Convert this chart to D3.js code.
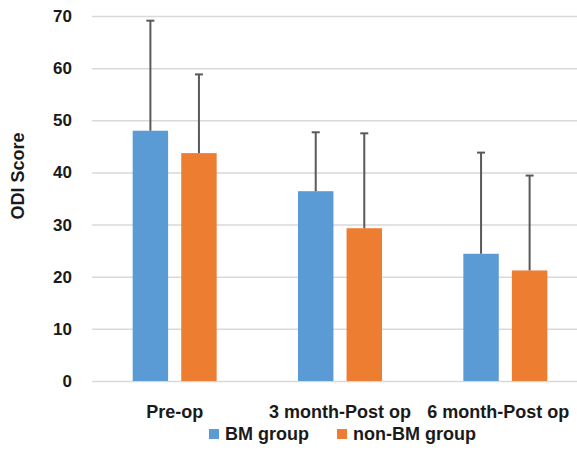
<!DOCTYPE html>
<html>
<head>
<meta charset="utf-8">
<script src="https://cdn.jsdelivr.net/npm/d3@7"></script>
<style>
  body { margin: 0; background: #fff; }
  text { font-family: "Liberation Sans", Arial, sans-serif; font-weight: bold; fill: #1a1a1a; }
</style>
</head>
<body>
<div id="chart"></div>
<script>
// datos
var categorias = ["Pre-op", "3 month-Post op", "6 month-Post op"];
var series = ["BM group", "non-BM group"];
var mediaBM = [48.0, 36.4, 24.4];
var sdBM = [21.1, 11.3, 19.4];
var mediaNoBM = [43.7, 29.3, 21.2];
var sdNoBM = [15.1, 18.2, 18.2];
var yTicks = [0, 10, 20, 30, 40, 50, 60, 70];
var colores = ["#5b9bd5", "#ed7d31"];

var W = 577, H = 456;
var margin = {top: 16, right: -11, bottom: 75, left: 92};
var width = W - margin.left - margin.right,
    height = H - margin.top - margin.bottom;

var svg = d3.select("#chart").append("svg")
    .attr("width", W)
    .attr("height", H);

var vis = svg.append("g")
    .attr("transform", "translate(" + margin.left + "," + margin.top + ")");

// escalas
var x = d3.scaleBand().domain(categorias).range([0, width]).paddingInner(0).paddingOuter(0);
var x1 = d3.scaleBand().domain(series).range([x.bandwidth()/2 - 42, x.bandwidth()/2 + 42]).paddingInner(0.27);
var y = d3.scaleLinear().domain([0, 70]).range([height, 0]);

// tabla de datos
var datos = [];
categorias.forEach(function(c, i) {
  datos.push({cat: c, serie: series[0], media: mediaBM[i], sd: sdBM[i]});
  datos.push({cat: c, serie: series[1], media: mediaNoBM[i], sd: sdNoBM[i]});
});

// grid
var yAxisGrid = d3.axisLeft(y)
    .tickValues(yTicks)
    .tickSizeInner(-width)
    .tickSizeOuter(0)
    .tickFormat("");
var grid = vis.append("g").attr("class", "grid").call(yAxisGrid);
grid.select(".domain").remove();
grid.selectAll("line").attr("stroke", "#d9d9d9").attr("stroke-width", 1.5);

// eje y letras
var yAxis = d3.axisLeft(y).tickValues(yTicks).tickSize(0).tickPadding(20);
var gy = vis.append("g").call(yAxis);
gy.select(".domain").remove();
gy.selectAll("text").style("font-size", "17px").attr("fill", "#1a1a1a");

// barras
vis.selectAll("rect.bar")
    .data(datos)
  .enter().append("rect")
    .attr("class", "bar")
    .attr("x", function(d) { return x(d.cat) + x1(d.serie); })
    .attr("y", function(d) { return y(d.media); })
    .attr("width", x1.bandwidth())
    .attr("height", function(d) { return height - y(d.media); })
    .attr("fill", function(d, i) { return colores[series.indexOf(d.serie)]; });

// barras de error
var err = vis.selectAll("g.err")
    .data(datos)
  .enter().append("g")
    .attr("class", "err")
    .attr("transform", function(d) { return "translate(" + (x(d.cat) + x1(d.serie) + x1.bandwidth()/2) + ",0)"; });
err.append("line")
    .attr("y1", function(d) { return y(d.media); })
    .attr("y2", function(d) { return y(d.media + d.sd); })
    .attr("stroke", "#595959").attr("stroke-width", 2);
err.append("line")
    .attr("x1", -4).attr("x2", 4)
    .attr("y1", function(d) { return y(d.media + d.sd); })
    .attr("y2", function(d) { return y(d.media + d.sd); })
    .attr("stroke", "#595959").attr("stroke-width", 2);

// eje x
var xAxis = d3.axisBottom(x).tickSize(0).tickPadding(24);
var gx = vis.append("g")
    .attr("transform", "translate(0," + height + ")")
    .call(xAxis);
gx.select(".domain").remove();
gx.selectAll("text").style("font-size", "18px").attr("fill", "#1a1a1a")
    .attr("dx", function(d, i) { return i == 2 ? -7 : 0; });

// titulo eje y
svg.append("text")
    .attr("transform", "translate(24,176) rotate(-90)")
    .attr("text-anchor", "middle")
    .style("font-size", "18px")
    .text("ODI Score");

// leyenda
var leyX = [209, 337];
var ley = svg.selectAll("g.ley")
    .data(series)
  .enter().append("g")
    .attr("class", "ley")
    .attr("transform", function(d, i) { return "translate(" + leyX[i] + ",429)"; });
ley.append("rect").attr("width", 10).attr("height", 10)
    .attr("fill", function(d, i) { return colores[i]; });
ley.append("text").attr("x", 16).attr("y", 11)
    .style("font-size", "18px")
    .text(function(d) { return d; });
</script>
</body>
</html>
